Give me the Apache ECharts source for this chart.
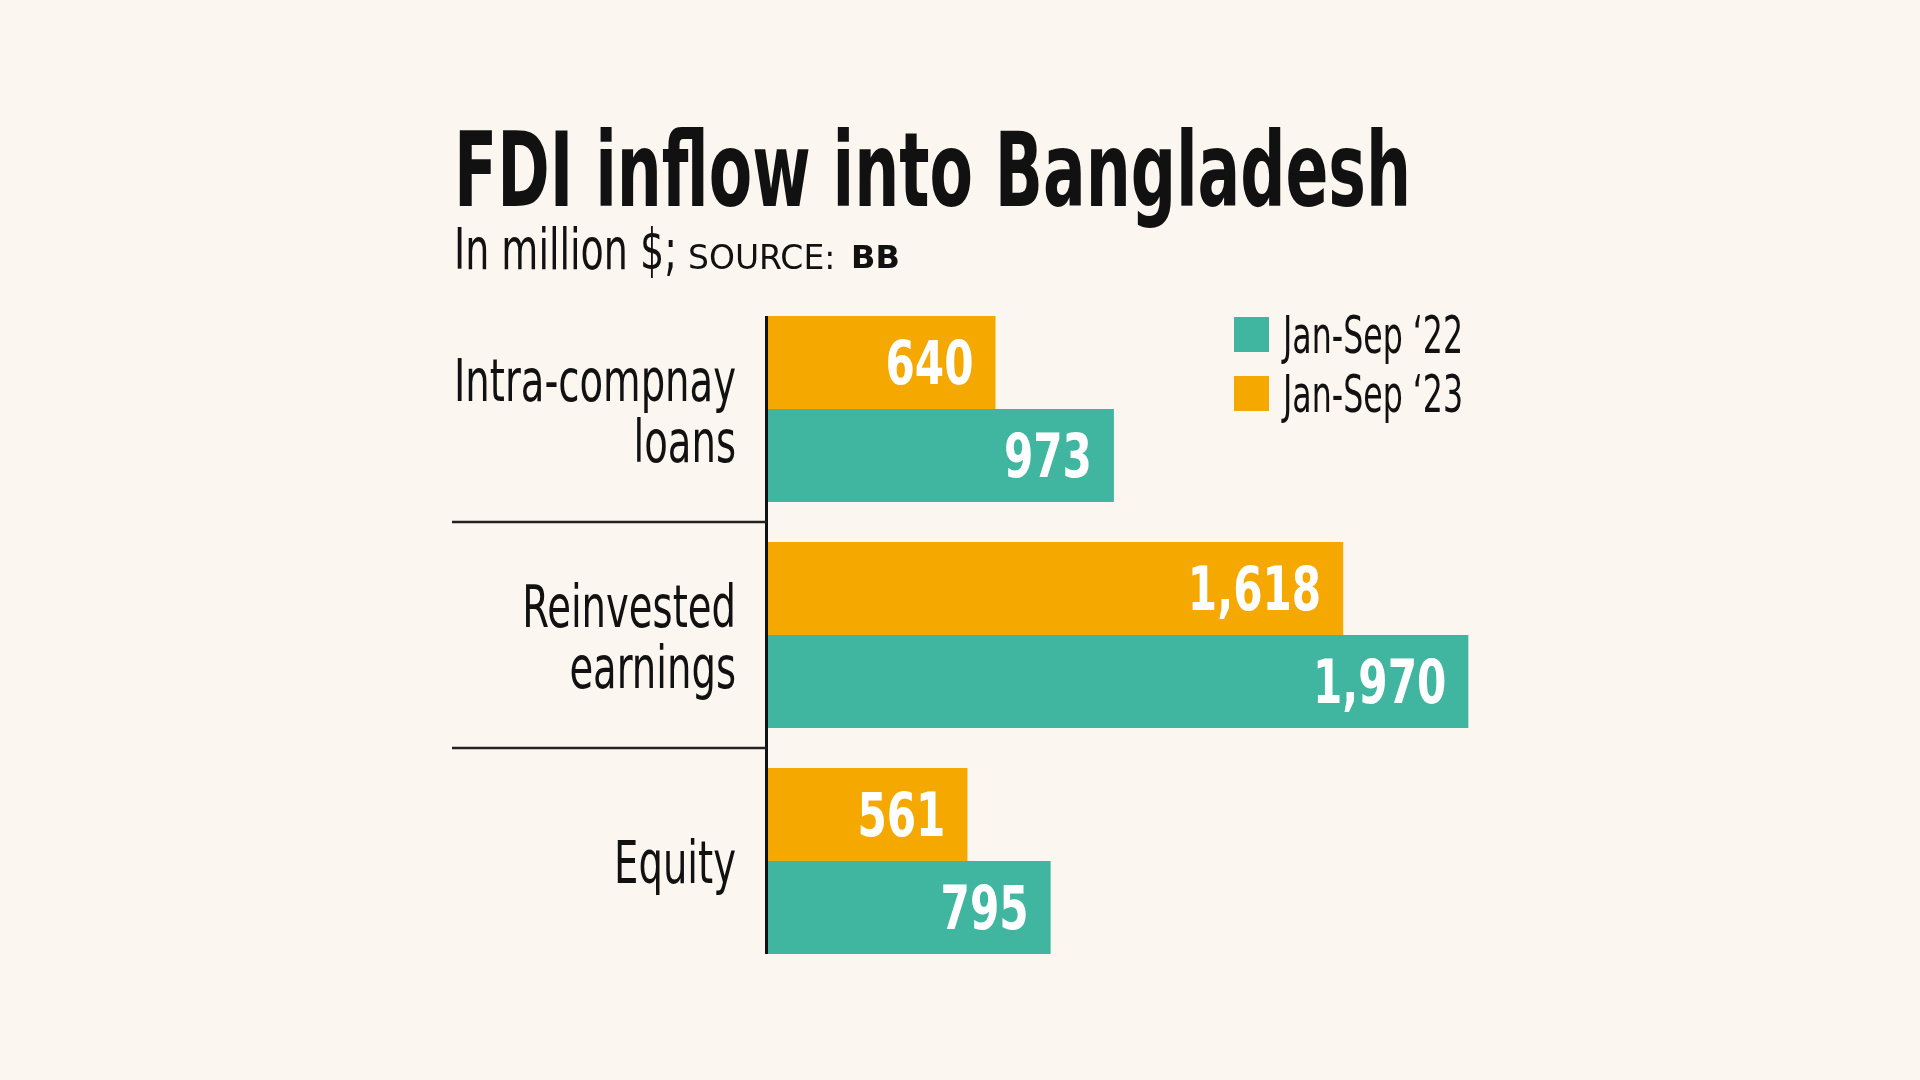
<!DOCTYPE html>
<html><head><meta charset="utf-8">
<script src="https://cdn.jsdelivr.net/npm/echarts@6/dist/echarts.min.js"></script>
<style>html,body{margin:0;padding:0;background:#fcf6f1}#c{width:1920px;height:1080px}</style>
</head><body><div id="c"></div>
<script>
// ---- data ----
const categories = ['Intra-compnay\nloans', 'Reinvested\nearnings', 'Equity'];
const seriesNames = ['Jan-Sep \u201822', 'Jan-Sep \u201823'];
const values22 = [973, 1970, 795];
const values23 = [640, 1618, 561];
const titleText = 'FDI inflow into Bangladesh';
const subtitleText = 'In million $;';
const sourceLabel = 'SOURCE:';
const sourceName = 'BB';

// ---- style ----
const COND = '"Liberation Sans Narrow", "DejaVu Sans Condensed", sans-serif';
const WIDE = '"DejaVu Sans", Verdana, sans-serif';
const TEAL = '#40b5a0';
const ORANGE = '#f5a800';
const INK = '#111111';
const BG = '#fcf6f1';

const ctx = document.createElement('canvas').getContext('2d');
function measure(text, font) { ctx.font = font; return ctx.measureText(text).width; }

const titleFont = 'bold 103px ' + COND;
const titleScale = 957 / measure(titleText, titleFont);
const subFont = '57px ' + COND;
const subScale = 223 / measure(subtitleText, subFont);
const catFont = '59px ' + COND;
const catScale = 282 / measure('Intra-compnay', catFont);
const valFont = 'bold 60px ' + COND;
const valScale = 88 / measure('973', valFont);
const legFont = '52px ' + COND;
const legScale = 180 / measure(seriesNames[0], legFont);
const TEXT_DY = 6; // cap-centre correction for the condensed face

const chart = echarts.init(document.getElementById('c'));
const BAR_W = 93;
const LABEL_GAP = 22;
const fmt = v => v.toLocaleString('en-US');

function labelSeries(values, offset) {
  return {
    type: 'custom', z: 5, silent: true,
    encode: { x: 0, y: 1 },
    data: values.map((v, i) => [v, i]),
    renderItem: (params, api) => {
      const v = api.value(0);
      const p = api.coord([v, api.value(1)]);
      return { type: 'text', x: p[0] - LABEL_GAP, y: p[1] + offset + TEXT_DY, scaleX: valScale,
        style: { text: fmt(v), font: valFont, fill: '#ffffff', align: 'right', verticalAlign: 'middle' } };
    }
  };
}

chart.setOption({
  backgroundColor: BG,
  animation: false,
  grid: { left: 768, top: 296, width: 711, height: 678 },
  xAxis: { type: 'value', min: 0, max: 2000, show: false },
  yAxis: {
    type: 'category', data: categories, inverse: true,
    axisLine: { show: false }, axisTick: { show: false }, splitLine: { show: false },
    axisLabel: { show: false }
  },
  series: [
    { name: seriesNames[1], type: 'bar', data: values23, barWidth: BAR_W, barGap: '0%', itemStyle: { color: ORANGE } },
    { name: seriesNames[0], type: 'bar', data: values22, barWidth: BAR_W, barGap: '0%', itemStyle: { color: TEAL } },
    labelSeries(values23, -BAR_W / 2),
    labelSeries(values22, BAR_W / 2)
  ]
});

// decorations derived from the axis positions
const cy = categories.map((c, i) => chart.convertToPixel({ yAxisIndex: 0 }, i));
const x0 = chart.convertToPixel({ xAxisIndex: 0 }, 0);
const graphics = [
  { type: 'text', x: 454, y: 179, scaleX: titleScale,
    style: { text: titleText, font: titleFont, fill: INK, align: 'left', verticalAlign: 'middle' } },
  { type: 'text', x: 454, y: 254, scaleX: subScale,
    style: { text: subtitleText, font: subFont, fill: INK, align: 'left', verticalAlign: 'middle' } },
  { type: 'text', x: 688, y: 260,
    style: { text: sourceLabel, font: '33px ' + WIDE, fill: INK, align: 'left', verticalAlign: 'middle' } },
  { type: 'text', x: 851, y: 260,
    style: { text: sourceName, font: 'bold 32px ' + WIDE, fill: INK, align: 'left', verticalAlign: 'middle' } },
  { type: 'line', shape: { x1: x0 - 1.5, y1: cy[0] - BAR_W, x2: x0 - 1.5, y2: cy[cy.length - 1] + BAR_W },
    style: { stroke: INK, lineWidth: 3 } }
];
// category labels
categories.forEach((cat, i) => {
  const lines = cat.split('\n');
  const lh = 61;
  lines.forEach((ln, j) => {
    const yy = cy[i] + (j - (lines.length - 1) / 2) * lh + 1 + TEXT_DY;
    graphics.push({ type: 'text', x: 736, y: yy, scaleX: catScale,
      style: { text: ln, font: catFont, fill: INK, align: 'right', verticalAlign: 'middle' } });
  });
});
// separators
for (let i = 0; i < cy.length - 1; i++) {
  const yb = Math.round((cy[i] + cy[i + 1]) / 2);
  graphics.push({ type: 'line', shape: { x1: 452, y1: yb, x2: x0 - 1.5, y2: yb }, style: { stroke: '#222', lineWidth: 2.5 } });
}
// legend
const legColors = [TEAL, ORANGE];
seriesNames.forEach((nm, i) => {
  const top = 317 + i * 59;
  graphics.push({ type: 'rect', shape: { x: 1234, y: top, width: 35, height: 35 }, style: { fill: legColors[i] } });
  graphics.push({ type: 'text', x: 1283, y: top + 22, scaleX: legScale,
    style: { text: nm, font: legFont, fill: INK, align: 'left', verticalAlign: 'middle' } });
});
chart.setOption({ graphic: graphics });
</script>
</body></html>
